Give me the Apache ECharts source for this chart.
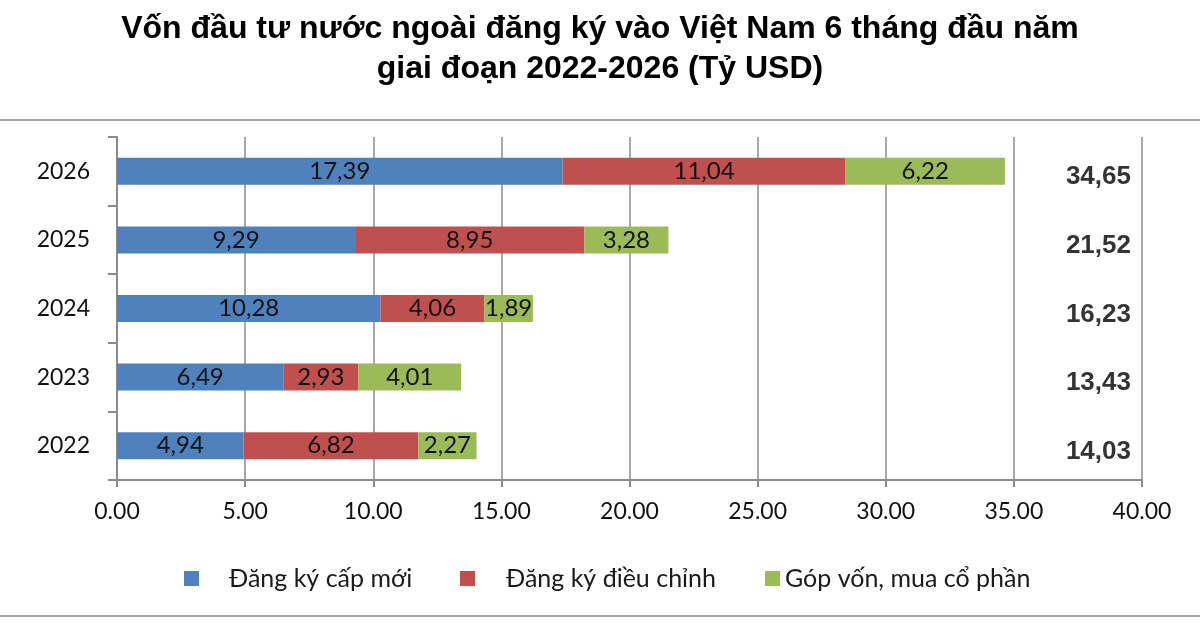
<!DOCTYPE html>
<html>
<head>
<meta charset="utf-8">
<title>Vốn FDI đăng ký 6 tháng đầu năm</title>
<script src="https://cdn.jsdelivr.net/npm/echarts@6/dist/echarts.min.js"></script>
<style>
  html, body { margin: 0; padding: 0; background: #fff; }
  #chart { width: 1200px; height: 630px; }
</style>
</head>
<body>
<div id="chart"></div>
<script>
// số liệu (tỷ USD)
var years = ['2022', '2023', '2024', '2025', '2026'];
var capMoi = [4.94, 6.49, 10.28, 9.29, 17.39];
var dieuChinh = [6.82, 2.93, 4.06, 8.95, 11.04];
var gopVon = [2.27, 4.01, 1.89, 3.28, 6.22];
var tongVon = [14.03, 13.43, 16.23, 21.52, 34.65];
var xTicks = [0, 5, 10, 15, 20, 25, 30, 35, 40];
var seriesNames = ['Đăng ký cấp mới', 'Đăng ký điều chỉnh', 'Góp vốn, mua cổ phần'];

var colors = ['#4F81BD', '#C0504D', '#9BBB59'];
var gridColor = '#8c8c8c';
var bodyFont = 'Lato, "Open Sans", sans-serif';

/** nhãn số kiểu Việt Nam: dấu phẩy thập phân */
function vn(v) {
	return v.toFixed(2).replace('.', ',');
}

function barSeries(name, data, color) {
	return {
		name: name,
		type: 'bar',
		stack: 'von',
		barWidth: 27,
		data: data,
		itemStyle: { color: color },
		label: {
			show: true,
			position: 'inside',
			color: '#111',
			fontFamily: bodyFont,
			fontSize: 24,
			formatter: function(p) { return vn(p.value); }
		}
	};
}

function legendFor(i, left, pad) {
	return {
		data: [seriesNames[i]],
		left: left,
		top: 561,
		itemWidth: 15,
		itemHeight: 15,
		icon: 'rect',
		textStyle: {
			color: '#1a1a1a',
			fontFamily: bodyFont,
			fontSize: 25,
			padding: [0, 0, 0, pad]
		}
	};
}

var chart = echarts.init(document.getElementById('chart'));
chart.setOption({
	animation: false,
	backgroundColor: '#fff',
	title: {
		text: 'Vốn đầu tư nước ngoài đăng ký vào Việt Nam 6 tháng đầu năm\ngiai đoạn 2022-2026 (Tỷ USD)',
		left: 'center',
		top: 4,
		textStyle: {
			fontFamily: '"Liberation Sans", Arial, sans-serif',
			fontWeight: 'bold',
			fontSize: 32,
			lineHeight: 40,
			color: '#000'
		}
	},
	legend: [
		legendFor(0, 179, 25),
		legendFor(1, 455, 26),
		legendFor(2, 760, 0)
	],
	grid: { left: 117, right: 58, top: 137, bottom: 150 },
	xAxis: {
		type: 'value',
		min: xTicks[0],
		max: xTicks[xTicks.length - 1],
		interval: xTicks[1] - xTicks[0],
		axisLine: { show: true, lineStyle: { color: gridColor, width: 2 } },
		axisTick: { show: true, length: 7, lineStyle: { color: gridColor, width: 2 } },
		splitLine: { show: true, lineStyle: { color: gridColor, width: 1.5 } },
		axisLabel: {
			margin: 20,
			color: '#111',
			fontFamily: bodyFont,
			fontSize: 23,
			formatter: function(v) { return v.toFixed(2); }
		}
	},
	yAxis: {
		type: 'category',
		data: years,
		axisLine: { show: true, lineStyle: { color: gridColor, width: 2 } },
		axisTick: { show: true, length: 9, lineStyle: { color: gridColor, width: 2 } },
		axisLabel: {
			margin: 27,
			color: '#111',
			fontFamily: bodyFont,
			fontSize: 23
		}
	},
	series: [
		barSeries(seriesNames[0], capMoi, colors[0]),
		barSeries(seriesNames[1], dieuChinh, colors[1]),
		barSeries(seriesNames[2], gopVon, colors[2]),
		{
			// tổng vốn, ghi bên phải
			name: 'Tổng',
			type: 'scatter',
			symbolSize: 1,
			itemStyle: { color: 'rgba(0,0,0,0)' },
			data: years.map(function(y, i) { return [38.3, y, tongVon[i]]; }),
			label: {
				show: true,
				position: 'inside',
				offset: [0, 6],
				color: '#000',
				fontFamily: '"Liberation Sans", Arial, sans-serif',
				fontWeight: 'bold',
				fontSize: 26,
				formatter: function(p) { return vn(p.value[2]); }
			},
			z: 5
		}
	],
	graphic: [
		{ type: 'line', shape: { x1: 0, y1: 120, x2: 1200, y2: 120 }, style: { stroke: '#a6a6a6', lineWidth: 2 } },
		{ type: 'line', shape: { x1: 0, y1: 616, x2: 1200, y2: 616 }, style: { stroke: '#a6a6a6', lineWidth: 2 } }
	]
});
</script>
</body>
</html>
